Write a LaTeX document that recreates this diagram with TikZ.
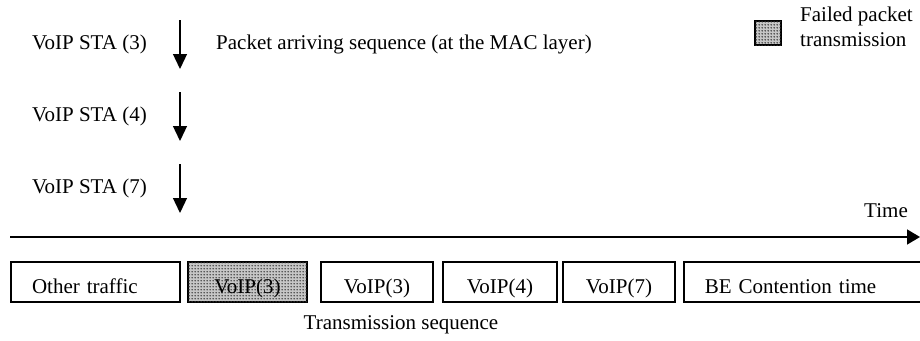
\documentclass[tikz,border=0pt]{standalone}
\usepackage{fontspec}
\setmainfont{Liberation Serif}
\usetikzlibrary{arrows.meta,patterns}

% fine grid of dots used for failed transmissions
\pgfdeclarepatternformonly{boxdots}{\pgfqpoint{-1pt}{-1pt}}{\pgfqpoint{2pt}{2pt}}{\pgfqpoint{3pt}{3pt}}{%
  \pgfpathcircle{\pgfqpoint{0.5pt}{0.5pt}}{1.0pt}\pgfusepath{fill}}

\tikzset{
  lbl/.style={inner sep=0pt, anchor=west},
  arrive/.style={line width=1.3pt, -{Triangle[length=15pt,width=14pt]}},
  axis/.style={line width=1.5pt, -{Triangle[length=13pt,width=15pt]}},
  slot/.style={draw, line width=1.5pt, minimum height=40pt, inner ysep=0pt,
    text height=24pt, text depth=2pt},
  failed/.style={fill=gray!45, postaction={pattern=boxdots, pattern color=black!80}},
}

\begin{document}
\begin{tikzpicture}[x=1pt, y=-1pt, font=\fontsize{21}{25}\selectfont]
\useasboundingbox (0,0) rectangle (920,340);
\clip (0,0) rectangle (920,340);

% stations and their packet arrivals
\node[lbl] (sta3) at (32,44) {VoIP STA (3)};
\node[lbl] (sta4) at (32,116) {VoIP STA (4)};
\node[lbl] (sta7) at (32,188) {VoIP STA (7)};
\coordinate (a3s) at (180,20);  \coordinate (a3e) at (180,69);
\coordinate (a4s) at (180,92);  \coordinate (a4e) at (180,141);
\coordinate (a7s) at (180,164); \coordinate (a7e) at (180,213);
\draw[arrive] (a3s) -- (a3e);
\draw[arrive] (a4s) -- (a4e);
\draw[arrive] (a7s) -- (a7e);
\node[lbl] (arrseq) at (216,44) {Packet arriving sequence (at the MAC layer)};

% legend
\node[draw, line width=2pt, failed, minimum width=26pt, minimum height=24pt, inner sep=0pt] (leg) at (768,33) {};
\node[lbl, align=left] (legtxt) at (800,27) {Failed packet\\transmission};

% time axis
\coordinate (t0) at (10,237);
\coordinate (t1) at (920,237);
\draw[axis] (t0) -- (t1);
\node[inner sep=0pt, anchor=east] (time) at (908,211) {Time};

% transmission slots
\node[slot, minimum width=169pt, text width=127pt, inner xsep=21pt, align=left] (b1) at (95.5,282) {Other traffic};
\node[slot, failed, minimum width=119pt, inner xsep=0pt] (b2) at (247.5,282) {VoIP(3)};
\node[slot, minimum width=112pt, inner xsep=0pt] (b3) at (377,282) {VoIP(3)};
\node[slot, minimum width=114pt, inner xsep=0pt] (b4) at (500,282) {VoIP(4)};
\node[slot, minimum width=112pt, inner xsep=0pt] (b5) at (619,282) {VoIP(7)};
\node[slot, anchor=west, text width=240pt, inner xsep=21pt, align=left] (b6) at (683,282) {BE Contention time};

\node[inner sep=0pt] (txseq) at (401,325) {Transmission sequence};
\end{tikzpicture}
\end{document}
